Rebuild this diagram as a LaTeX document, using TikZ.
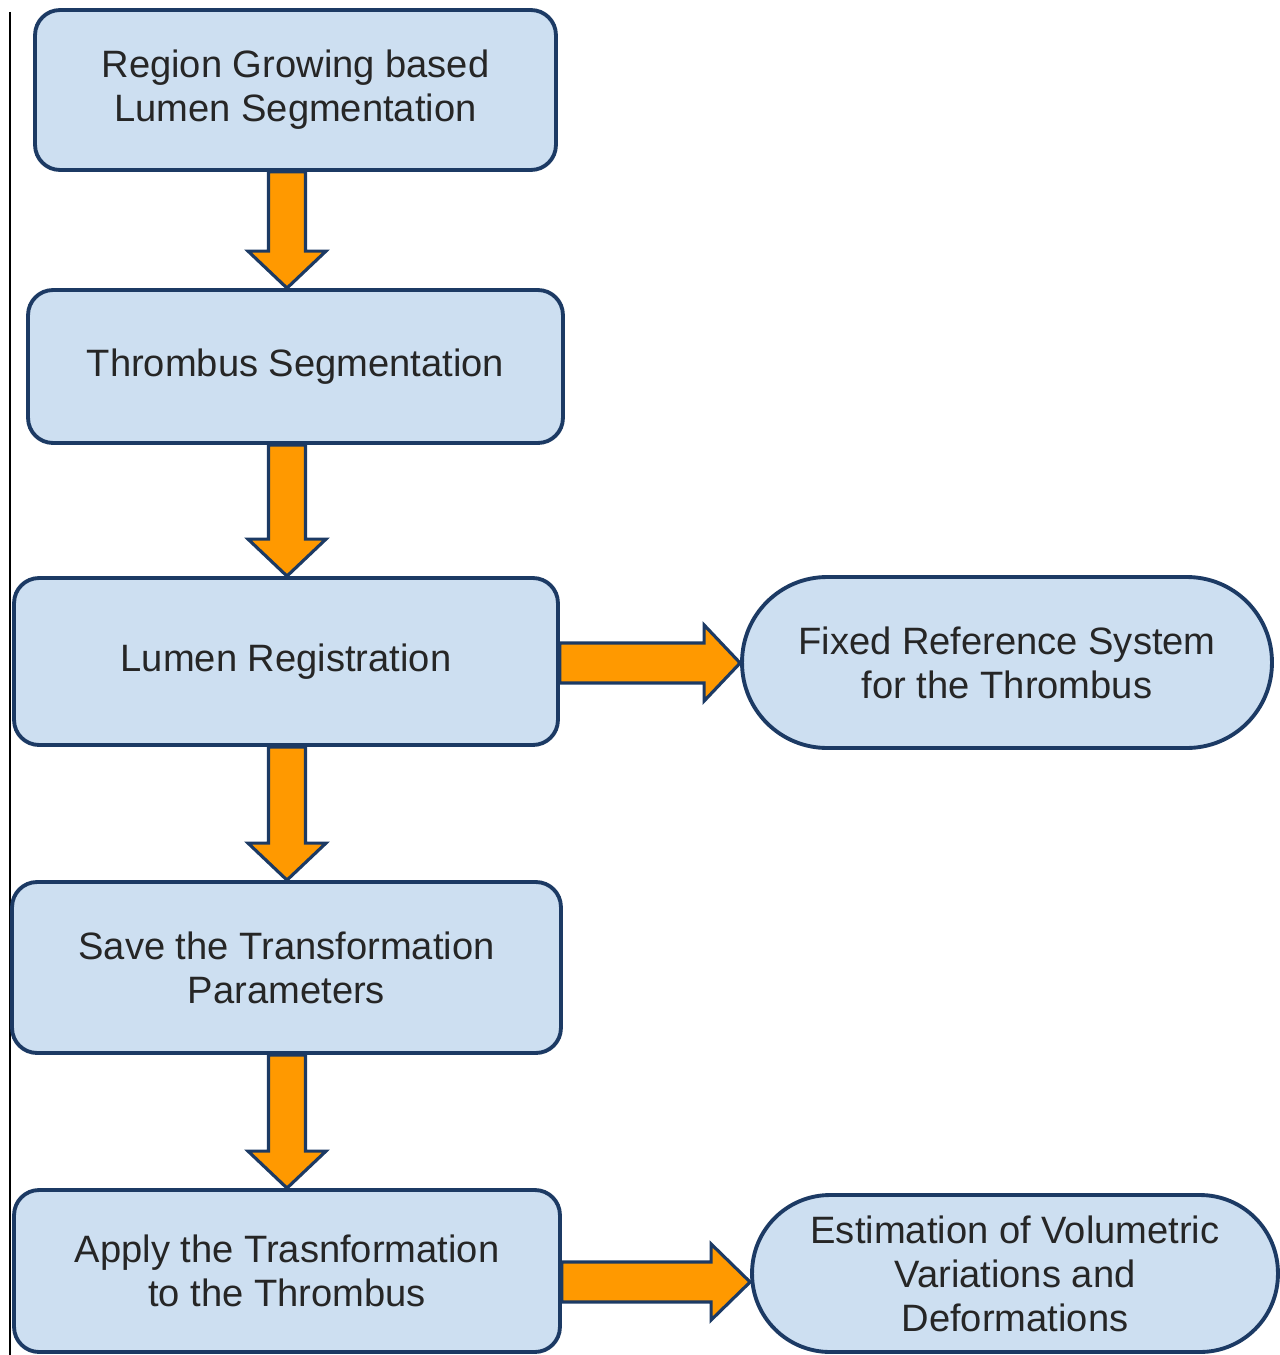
\documentclass[tikz,border=0pt]{standalone}
\usepackage{fontspec}
\setmainfont{Liberation Sans}
\usetikzlibrary{calc,backgrounds}
\definecolor{boxfill}{RGB}{205,223,241}
\definecolor{boxline}{RGB}{28,58,100}
\definecolor{flow}{RGB}{255,153,0}
\newcommand{\vflow}[2]{%
  \draw[flowarrow] ($(ax |- #1.south)+(-18.5,0)$) -- ($(ax |- #2.north)+(-18.5,-37)$) -- ($(ax |- #2.north)+(-39,-37)$) -- (ax |- #2.north) -- ($(ax |- #2.north)+(39,-37)$) -- ($(ax |- #2.north)+(18.5,-37)$) -- ($(ax |- #1.south)+(18.5,0)$) -- cycle;}
\newcommand{\hflow}[4]{%
  \draw[flowarrow] ($(#1.east |- #3)+(0,-20)$) -- ($(#2.west |- #3)+(-#4,-20)$) -- ($(#2.west |- #3)+(-#4,-38)$) -- (#2.west |- #3) -- ($(#2.west |- #3)+(-#4,38)$) -- ($(#2.west |- #3)+(-#4,20)$) -- ($(#1.east |- #3)+(0,20)$) -- cycle;}
\begin{document}
\begin{tikzpicture}[x=0.02cm,y=-0.02cm,
  stepbox/.style={draw=boxline, line width=2.2pt, fill=boxfill, rounded corners=0.5cm, align=center,
    font=\fontsize{21.7}{25}\selectfont, text=black!85, inner sep=0pt},
  flowarrow/.style={draw=boxline, line width=1.8pt, fill=flow, line join=miter}]
\useasboundingbox (0,0) rectangle (1280,1355);
\coordinate (ax) at (287,0);
\coordinate (h1) at (0,663);
\coordinate (h2) at (0,1282);
\coordinate (lt) at (10,12);
\coordinate (lb) at (10,1355);
\draw[black, line width=0.8pt] (lt) -- (lb);

\node[stepbox, minimum width=10.42cm, minimum height=3.2cm] (b1) at (295.5,90) {Region Growing based\\Lumen Segmentation};
\node[stepbox, minimum width=10.7cm, minimum height=3.06cm] (b2) at (295.5,366.5) {Thrombus Segmentation};
\node[stepbox, minimum width=10.88cm, minimum height=3.34cm] (b3) at (286,661.5) {Lumen Registration};
\node[stepbox, minimum width=10.98cm, minimum height=3.42cm] (b4) at (286.5,967.5) {Save the Transformation\\Parameters};
\node[stepbox, minimum width=10.92cm, minimum height=3.24cm] (b5) at (287,1271) {Apply the Trasnformation\\to the Thrombus};
\node[stepbox, minimum width=10.6cm, minimum height=3.42cm, rounded corners=1.7cm] (r1) at (1007,662.5) {Fixed Reference System\\for the Thrombus};
\node[stepbox, minimum width=10.52cm, minimum height=3.14cm, rounded corners=1.56cm] (r2) at (1015,1273.5) {Estimation of Volumetric\\Variations and\\Deformations};

\begin{scope}[on background layer]
\vflow{b1}{b2}
\vflow{b2}{b3}
\vflow{b3}{b4}
\vflow{b4}{b5}
\hflow{b3}{r1}{h1}{36}
\hflow{b5}{r2}{h2}{39}
\end{scope}
\end{tikzpicture}
\end{document}
